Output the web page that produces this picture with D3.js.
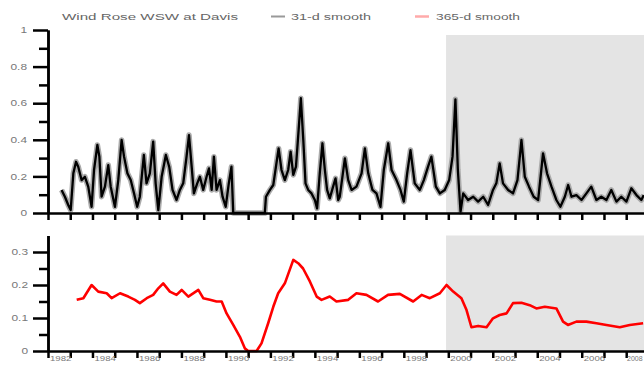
<!DOCTYPE html>
<html><head><meta charset="utf-8">
<script src="https://cdn.jsdelivr.net/npm/d3@7"></script>
<style>body{margin:0;background:#fff} svg{display:block}</style>
</head><body><svg id="c" width="644" height="365"></svg>
<script>
const title = "Wind Rose WSW  at Davis";
const legendLabels = ["31-d smooth", "365-d smooth"];
const xDomain = [1982, 2008.8];
const shadeStart = 1999.9;
const xTickYears = [1982,1983,1984,1985,1986,1987,1988,1989,1990,1991,1992,1993,1994,1995,1996,1997,1998,1999,2000,2001,2002,2003,2004,2005,2006,2007,2008];
const xLabelYears = [1982,1984,1986,1988,1990,1992,1994,1996,1998,2000,2002,2004,2006,2008];
const topMajor = [0,0.2,0.4,0.6,0.8,1];
const topMajorLabels = ["0","0.2","0.4","0.6","0.8","1"];
const topMinor = [0.1,0.3,0.5,0.7,0.9];
const botMajor = [0,0.1,0.2,0.3];
const botMajorLabels = ["0","0.1","0.2","0.3"];
const botMinor = [0.05,0.15,0.25];

const smooth31Years = [1982.61,1982.76,1982.91,1983.02,1983.14,1983.26,1983.36,1983.51,1983.66,1983.81,1983.96,
1984.07,1984.22,1984.31,1984.41,1984.56,1984.71,1984.82,1985.01,1985.16,1985.31,1985.42,1985.57,1985.72,1985.87,
1986.01,1986.13,1986.31,1986.43,1986.58,1986.73,1986.84,1986.96,1987.11,1987.30,1987.45,1987.60,1987.78,1987.93,
1988.08,1988.23,1988.34,1988.46,1988.56,1988.71,1988.83,1988.98,1989.13,1989.24,1989.36,1989.46,1989.58,1989.73,
1989.85,1989.99,1990.13,1990.25,1990.33,1991.75,1991.80,1991.98,1992.13,1992.25,1992.37,1992.50,1992.65,1992.80,
1992.91,1993.03,1993.15,1993.27,1993.37,1993.48,1993.58,1993.70,1993.85,1994.00,1994.10,1994.22,1994.34,1994.45,
1994.55,1994.67,1994.82,1994.93,1995.05,1995.12,1995.35,1995.50,1995.65,1995.87,1996.10,1996.25,1996.40,1996.59,
1996.77,1996.95,1997.10,1997.30,1997.45,1997.67,1997.85,1998.00,1998.15,1998.30,1998.49,1998.72,1998.90,1999.09,
1999.24,1999.44,1999.62,1999.84,2000.04,2000.19,2000.32,2000.43,2000.55,2000.67,2000.89,2001.12,2001.34,2001.57,
2001.79,2002.01,2002.16,2002.31,2002.46,2002.69,2002.91,2003.11,2003.29,2003.44,2003.63,2003.84,2004.04,2004.26,
2004.44,2004.64,2004.86,2005.04,2005.24,2005.39,2005.54,2005.76,2005.99,2006.21,2006.43,2006.66,2006.88,2007.11,
2007.33,2007.56,2007.78,2008.01,2008.23,2008.46,2008.68,2008.79];
const smooth31Values = [0.126,0.089,0.044,0.016,0.217,0.28,0.253,0.18,0.198,0.144,0.034,
0.235,0.372,0.308,0.089,0.144,0.262,0.144,0.034,0.18,0.399,0.308,0.217,0.18,0.107,
0.034,0.089,0.317,0.162,0.217,0.39,0.162,0.016,0.198,0.317,0.253,0.126,0.071,0.126,
0.162,0.308,0.426,0.253,0.107,0.162,0.198,0.126,0.198,0.244,0.126,0.308,0.126,0.18,
0.089,0.034,0.162,0.253,0,0,0.089,0.126,0.153,0.253,0.353,0.235,0.18,0.235,
0.335,0.208,0.253,0.454,0.627,0.399,0.162,0.126,0.107,0.071,0.025,0.217,0.381,0.235,
0.126,0.080,0.144,0.189,0.071,0.089,0.299,0.18,0.126,0.144,0.217,0.353,0.217,0.126,
0.107,0.034,0.235,0.381,0.235,0.18,0.126,0.062,0.217,0.344,0.162,0.126,0.18,0.253,
0.308,0.144,0.107,0.126,0.18,0.308,0.621,0.235,0.007,0.107,0.071,0.089,0.062,0.089,
0.044,0.126,0.162,0.271,0.162,0.126,0.107,0.18,0.399,0.198,0.144,0.089,0.071,0.326,
0.217,0.144,0.071,0.034,0.089,0.153,0.089,0.098,0.071,0.107,0.144,0.071,0.089,0.071,
0.126,0.062,0.089,0.062,0.135,0.098,0.071,0.098];

const smooth365Years = [1983.29,1983.59,1983.96,1984.26,1984.64,1984.86,1985.24,1985.61,1985.91,1986.13,1986.44,
1986.73,1986.96,1987.18,1987.48,1987.78,1988.01,1988.31,1988.76,1988.98,1989.28,1989.58,1989.81,1990.03,1990.33,
1990.63,1990.85,1991.00,1991.38,1991.60,1991.90,1992.13,1992.35,1992.65,1993.03,1993.25,1993.47,1993.78,1994.08,
1994.30,1994.67,1994.97,1995.50,1995.87,1996.32,1996.84,1997.29,1997.82,1998.42,1998.80,1999.17,1999.62,1999.92,
2000.22,2000.59,2000.82,2001.04,2001.34,2001.72,2002.01,2002.31,2002.62,2002.91,2003.29,2003.66,2003.96,2004.34,
2004.86,2005.16,2005.38,2005.76,2006.21,2006.66,2007.11,2007.71,2008.16,2008.76];
const smooth365Values = [0.155,0.160,0.200,0.180,0.175,0.160,0.175,0.165,0.155,0.145,0.160,
0.170,0.190,0.205,0.180,0.170,0.185,0.165,0.185,0.160,0.155,0.150,0.150,0.114,0.079,
0.043,0.008,0.0,0.0,0.023,0.084,0.134,0.175,0.205,0.276,0.266,0.250,0.210,0.165,
0.155,0.165,0.150,0.155,0.175,0.170,0.150,0.170,0.173,0.150,0.170,0.160,0.175,0.200,
0.180,0.160,0.124,0.072,0.076,0.072,0.099,0.109,0.114,0.145,0.146,0.139,0.129,0.134,
0.129,0.089,0.079,0.089,0.089,0.084,0.079,0.072,0.079,0.084];

const W = 644, H = 365;
const left = 48;
const svg = d3.select("#c");
const x = d3.scaleLinear().domain(xDomain).range([left, W]);
const yTop = d3.scaleLinear().domain([0, 1]).range([213, 30]);
const yBot = d3.scaleLinear().domain([0, 0.35]).range([351, 351 - 0.35 * 330]);
const font = "'Liberation Sans', Arial, sans-serif";
const axisStroke = 2.5;

// shading
svg.append("rect").attr("x", x(shadeStart)).attr("y", 35)
  .attr("width", W - x(shadeStart)).attr("height", yTop(0) - 35).attr("fill", "#e4e4e4");
svg.append("rect").attr("x", x(shadeStart)).attr("y", yBot.range()[1])
  .attr("width", W - x(shadeStart)).attr("height", yBot(0) - yBot.range()[1]).attr("fill", "#e4e4e4");

// lines
const topData = smooth31Years.map((d, i) => [d, smooth31Values[i]]);
const botData = smooth365Years.map((d, i) => [d, smooth365Values[i]]);
const lt = d3.line().x(d => x(d[0])).y(d => yTop(d[1]));
const lb = d3.line().x(d => x(d[0])).y(d => yBot(d[1]));
svg.append("path").attr("d", lt(topData)).attr("fill", "none").attr("stroke", "#aaaaaa")
  .attr("stroke-width", 5.5).attr("stroke-linejoin", "round");
svg.append("path").attr("d", lt(topData)).attr("fill", "none").attr("stroke", "#000")
  .attr("stroke-width", 2.3).attr("stroke-linejoin", "round");
svg.append("path").attr("d", lb(botData)).attr("fill", "none").attr("stroke", "#ff0000")
  .attr("stroke-width", 2.6).attr("stroke-linejoin", "round");

function styleAxis(g) {
  g.select(".domain").attr("stroke-width", axisStroke).attr("stroke", "#000");
  g.selectAll(".tick line").attr("stroke-width", axisStroke).attr("stroke", "#000");
  g.selectAll("text").attr("font-family", font).attr("fill", "#777");
}
function stretch(sel, f) {
  sel.each(function() {
    const n = this.getComputedTextLength();
    this.setAttribute("textLength", n * f);
    this.setAttribute("lengthAdjust", "spacingAndGlyphs");
  });
}

// y axes
function yAxes(scale, major, labels, minor, labelX) {
  const gMin = svg.append("g").attr("transform", `translate(${left},0)`)
    .call(d3.axisLeft(scale).tickValues(minor).tickSize(9).tickSizeOuter(0).tickFormat(""));
  styleAxis(gMin);
  const gMaj = svg.append("g").attr("transform", `translate(${left},0)`)
    .call(d3.axisLeft(scale).tickValues(major).tickSize(15).tickSizeOuter(0)
      .tickPadding(left - labelX - 15).tickFormat((d, i) => labels[i]));
  styleAxis(gMaj);
  gMaj.selectAll("text").attr("font-size", 8.5);
  stretch(gMaj.selectAll("text"), 1.4);
}
yAxes(yTop, topMajor, topMajorLabels, topMinor, 27);
yAxes(yBot, botMajor, botMajorLabels, botMinor, 28);

// x axes
const gxt = svg.append("g").attr("transform", `translate(0,${yTop(0)})`)
  .call(d3.axisBottom(x).tickValues(xTickYears).tickSize(7).tickSizeOuter(0).tickFormat(""));
styleAxis(gxt);
const gxb = svg.append("g").attr("transform", `translate(0,${yBot(0)})`)
  .call(d3.axisBottom(x).tickValues(xTickYears).tickSize(7).tickSizeOuter(0).tickFormat(""));
styleAxis(gxb);
const xl = svg.append("g").selectAll("text").data(xLabelYears).join("text")
  .attr("x", d => Math.min(x(d) + 2, W - 17)).attr("y", 361).attr("font-size", 8)
  .attr("font-family", font).attr("fill", "#777").text(d => String(d));
stretch(xl, 1.2);
xl.filter(d => d === 2008).attr("textLength", 15.5);

// title & legend
function fitText(t, xx, yy, w) {
  const el = svg.append("text").attr("x", xx).attr("y", yy).attr("font-size", 8.5)
    .attr("font-family", font).attr("fill", "#666").text(t);
  el.attr("textLength", w).attr("lengthAdjust", "spacingAndGlyphs");
}
fitText(title, 62, 19.5, 176);
svg.append("line").attr("x1", 271).attr("x2", 285).attr("y1", 16.5).attr("y2", 16.5)
  .attr("stroke", "#999").attr("stroke-width", 2);
fitText(legendLabels[0], 291, 19.5, 80);
svg.append("line").attr("x1", 415).attr("x2", 429).attr("y1", 16.5).attr("y2", 16.5)
  .attr("stroke", "#ffaaaa").attr("stroke-width", 2.5);
fitText(legendLabels[1], 436, 19.5, 84);
</script></body></html>
